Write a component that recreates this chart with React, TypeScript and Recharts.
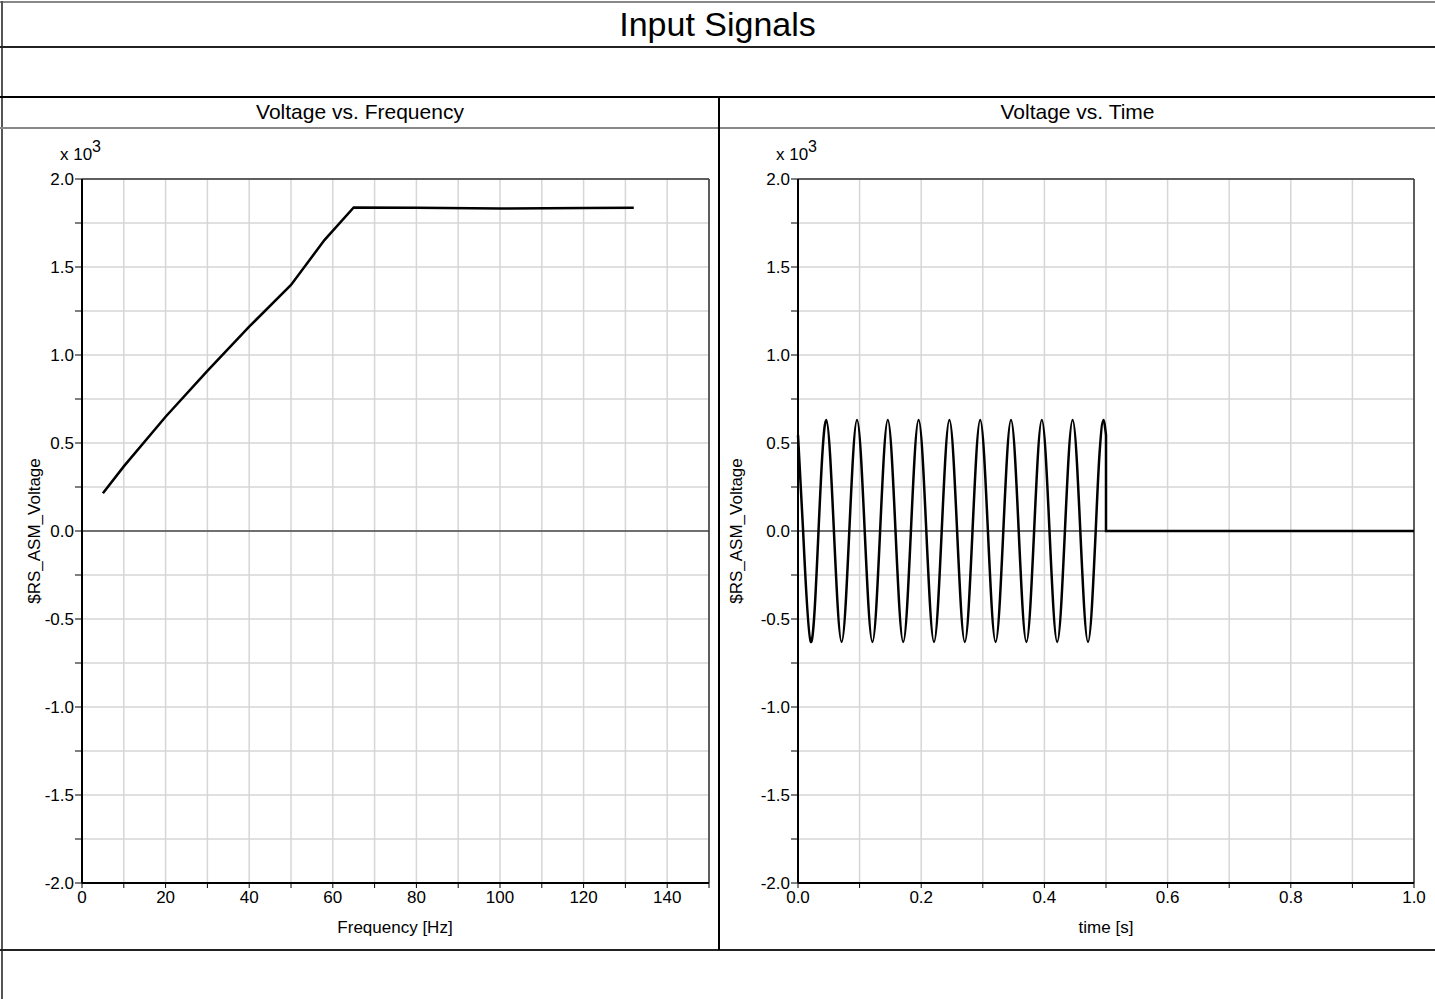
import { LineChart, Line, XAxis, YAxis, CartesianGrid, ReferenceLine } from "recharts";

// Voltage vs. Frequency
const freqHz = [5, 10, 20, 30, 40, 50, 58, 65, 80, 100, 120, 132];
const freqVolt = [214, 367, 649, 910, 1161, 1398, 1653, 1838, 1836, 1832, 1835, 1836];

// Voltage vs. Time: zero crossings, troughs and peaks of the 20 Hz burst
const sineTime = [
    0, 0.0083, 0.0208, 0.0333, 0.0458,
    0.0583, 0.0708, 0.0833, 0.0958,
    0.1083, 0.1208, 0.1333, 0.1458,
    0.1583, 0.1708, 0.1833, 0.1958,
    0.2083, 0.2208, 0.2333, 0.2458,
    0.2583, 0.2708, 0.2833, 0.2958,
    0.3083, 0.3208, 0.3333, 0.3458,
    0.3583, 0.3708, 0.3833, 0.3958,
    0.4083, 0.4208, 0.4333, 0.4458,
    0.4583, 0.4708, 0.4833,
];
const sineVolt = [
    545, 0, -630, 0, 630,
    0, -630, 0, 630,
    0, -630, 0, 630,
    0, -630, 0, 630,
    0, -630, 0, 630,
    0, -630, 0, 630,
    0, -630, 0, 630,
    0, -630, 0, 630,
    0, -630, 0, 630,
    0, -630, 0,
];
// last rise of the burst, cut off at 0.5 s
const lastTime = [0.4833, 0.4896, 0.4958, 0.5];
const lastVolt = [0, 445, 630, 545];
// after the burst the signal drops to zero
const tailTime = [0.5, 0.5, 1.0];
const tailVolt = [545, 0, 0];

const yTicks = [-2000, -1750, -1500, -1250, -1000, -750, -500, -250, 0, 250, 500, 750, 1000, 1250, 1500, 1750, 2000];
const freqTicks = [0, 10, 20, 30, 40, 50, 60, 70, 80, 90, 100, 110, 120, 130, 140, 150];
const timeTicks = [0, 0.1, 0.2, 0.3, 0.4, 0.5, 0.6, 0.7, 0.8, 0.9, 1.0];

const FONT = "'Liberation Sans', Arial, sans-serif";

const freqData = freqHz.map((x, i) => ({ x, v: freqVolt[i] }));
const sineData = sineTime.map((x, i) => ({ x, v: sineVolt[i] }));
const lastData = lastTime.map((x, i) => ({ x, v: lastVolt[i] }));
const tailData = tailTime.map((x, i) => ({ x, v: tailVolt[i] }));

const tickStyle = { fill: "#000", fontSize: 17, fontFamily: FONT };
const fmtY = (v: number) => (v % 500 === 0 ? (v / 1000).toFixed(1) : "");
const fmtFreq = (v: number) => (v % 20 === 0 && v <= 140 ? String(v) : "");
const fmtTime = (v: number) => (Math.round(v * 10) % 2 === 0 ? v.toFixed(1) : "");

function hline(top: number, color: string, h = 2, left = 0, width = 1435) {
    return <div style={{ position: "absolute", left, top, width, height: h, background: color }} />;
}

function Exponent({ left }: { left: number }) {
    return (
        <>
            <div style={{ position: "absolute", left, top: 146, fontSize: 17, lineHeight: "17px", whiteSpace: "nowrap" }}>x 10</div>
            <div style={{ position: "absolute", left: left + 32, top: 139, fontSize: 16, lineHeight: "16px" }}>3</div>
        </>
    );
}

function YLabel({ cx }: { cx: number }) {
    return (
        <div
            style={{
                position: "absolute", left: cx - 100, top: 521, width: 200, height: 20,
                lineHeight: "20px", textAlign: "center", fontSize: 17, transform: "rotate(-90deg)",
            }}
        >
            $RS_ASM_Voltage
        </div>
    );
}

function XLabel({ cx, text }: { cx: number; text: string }) {
    return (
        <div style={{ position: "absolute", left: cx - 150, top: 918, width: 300, height: 20, lineHeight: "20px", textAlign: "center", fontSize: 17 }}>
            {text}
        </div>
    );
}

export default function App() {
    return (
        <div style={{ position: "absolute", left: 0, top: 0, width: 1435, height: 999, background: "#fff", fontFamily: FONT, color: "#000" }}>
            {/* frame */}
            {hline(1, "#888")}
            <div style={{ position: "absolute", left: 1, top: 1, width: 2, height: 998, background: "#555" }} />
            {hline(46, "#222")}
            {hline(96, "#000")}
            {hline(127, "#888")}
            {hline(949, "#222")}
            <div style={{ position: "absolute", left: 718, top: 97, width: 2, height: 853, background: "#000" }} />

            <div style={{ position: "absolute", left: 0, top: 3, width: 1435, height: 43, lineHeight: "43px", textAlign: "center", fontSize: 34 }}>
                Input Signals
            </div>
            <div style={{ position: "absolute", left: 2, top: 97, width: 716, height: 29, lineHeight: "29px", textAlign: "center", fontSize: 21 }}>
                Voltage vs. Frequency
            </div>
            <div style={{ position: "absolute", left: 720, top: 97, width: 715, height: 29, lineHeight: "29px", textAlign: "center", fontSize: 21 }}>
                Voltage vs. Time
            </div>

            {/* left panel */}
            <div style={{ position: "absolute", left: 0, top: 130 }}>
                <LineChart width={719} height={800} margin={{ top: 49, right: 10, bottom: 17, left: 0 }}>
                    <CartesianGrid stroke="#d6d6d6" strokeWidth={1.5} />
                    <XAxis
                        dataKey="x" type="number" domain={[0, 150]} ticks={freqTicks} interval={0}
                        tickFormatter={fmtFreq} tick={tickStyle} height={30} tickSize={5} tickMargin={3}
                        axisLine={{ stroke: "#000", strokeWidth: 2 }} tickLine={{ stroke: "#000" }}
                    />
                    <YAxis
                        type="number" domain={[-2000, 2000]} ticks={yTicks} interval={0}
                        tickFormatter={fmtY} tick={tickStyle} width={82} tickSize={7} tickMargin={1}
                        axisLine={{ stroke: "#000", strokeWidth: 2 }} tickLine={{ stroke: "#000" }}
                    />
                    <ReferenceLine y={0} stroke="#000" strokeWidth={1} />
                    <ReferenceLine y={2000} stroke="#333" strokeWidth={1.5} />
                    <ReferenceLine x={150} stroke="#333" strokeWidth={1.5} />
                    <Line data={freqData} dataKey="v" type="linear" stroke="#000" strokeWidth={2.5} dot={false} activeDot={false} isAnimationActive={false} />
                </LineChart>
            </div>

            {/* right panel */}
            <div style={{ position: "absolute", left: 719, top: 130 }}>
                <LineChart width={716} height={800} margin={{ top: 49, right: 21, bottom: 17, left: 0 }}>
                    <CartesianGrid stroke="#d6d6d6" strokeWidth={1.5} />
                    <XAxis
                        dataKey="x" type="number" domain={[0, 1]} ticks={timeTicks} interval={0}
                        tickFormatter={fmtTime} tick={tickStyle} height={30} tickSize={5} tickMargin={3}
                        axisLine={{ stroke: "#000", strokeWidth: 2 }} tickLine={{ stroke: "#000" }}
                    />
                    <YAxis
                        type="number" domain={[-2000, 2000]} ticks={yTicks} interval={0}
                        tickFormatter={fmtY} tick={tickStyle} width={79} tickSize={7} tickMargin={1}
                        axisLine={{ stroke: "#000", strokeWidth: 2 }} tickLine={{ stroke: "#000" }}
                    />
                    <ReferenceLine y={0} stroke="#000" strokeWidth={1} />
                    <ReferenceLine y={2000} stroke="#333" strokeWidth={1.5} />
                    <ReferenceLine x={1} stroke="#333" strokeWidth={1.5} />
                    <Line data={sineData} dataKey="v" type="natural" stroke="#000" strokeWidth={2.5} dot={false} activeDot={false} isAnimationActive={false} />
                    <Line data={lastData} dataKey="v" type="monotoneX" stroke="#000" strokeWidth={2.5} dot={false} activeDot={false} isAnimationActive={false} />
                    <Line data={tailData} dataKey="v" type="linear" stroke="#000" strokeWidth={2.5} dot={false} activeDot={false} isAnimationActive={false} />
                </LineChart>
            </div>

            <Exponent left={60} />
            <Exponent left={776} />
            <YLabel cx={35} />
            <YLabel cx={737} />
            <XLabel cx={395} text="Frequency [Hz]" />
            <XLabel cx={1106} text="time [s]" />
        </div>
    );
}
